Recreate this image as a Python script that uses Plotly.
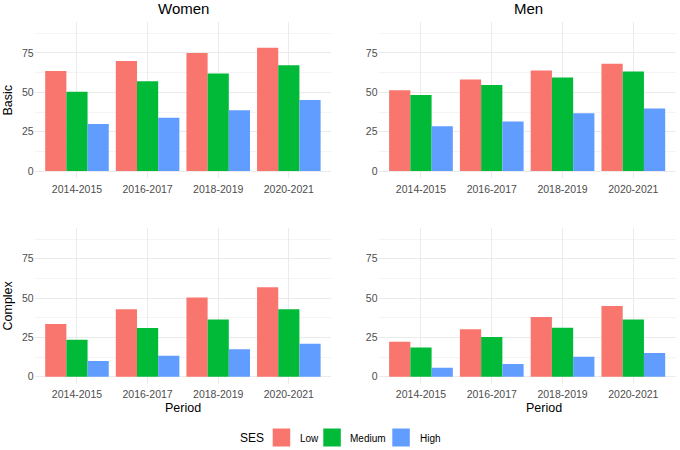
import plotly.graph_objects as go

periods = ["2014-2015", "2016-2017", "2018-2019", "2020-2021"]
ses_levels = ["Low", "Medium", "High"]
colors = ["#F8766D", "#00BA38", "#619CFF"]

women_basic = {"Low": [63.6, 69.9, 75.0, 78.4], "Medium": [50.4, 57.0, 61.9, 67.2], "High": [29.9, 33.9, 38.6, 45.1]}
men_basic = {"Low": [51.3, 58.1, 63.8, 68.2], "Medium": [48.3, 54.7, 59.5, 63.3], "High": [28.4, 31.4, 36.7, 39.8]}
women_complex = {"Low": [33.5, 42.8, 50.4, 56.8], "Medium": [23.5, 30.9, 36.4, 42.8], "High": [10.0, 13.3, 17.4, 21.0]}
men_complex = {"Low": [22.2, 30.1, 37.9, 44.9], "Medium": [18.6, 25.2, 31.1, 36.4], "High": [5.7, 8.1, 12.7, 15.0]}

W, H = 680, 450
FONT = "Liberation Sans, Arial, sans-serif"

panels = [
    (women_basic, "x", "y"),
    (men_basic, "x2", "y2"),
    (women_complex, "x3", "y3"),
    (men_complex, "x4", "y4"),
]

fig = go.Figure()
for data, xa, ya in panels:
    for lvl, col in zip(ses_levels, colors):
        fig.add_trace(go.Bar(x=periods, y=data[lvl], name=lvl, marker=dict(color=col, line=dict(width=0)),
                             xaxis=xa, yaxis=ya, showlegend=False, offsetgroup=lvl))

def px_x(a, b):
    return [a / W, b / W]

def px_y(top, bottom):
    return [1 - bottom / H, 1 - top / H]

left_dom = px_x(34.6, 331.2)
right_dom = px_x(378.5, 675.8)
top_dom = px_y(22.3, 178.1)
bot_dom = px_y(228.0, 383.8)

xcommon = dict(type="category", range=[-0.6, 3.6], showgrid=True, gridcolor="#EBEBEB", gridwidth=1,
               showline=False, zeroline=False, ticks="", ticklabelstandoff=3,
               tickfont=dict(family=FONT, size=10.5, color="#4D4D4D"),
               categoryorder="array", categoryarray=periods, fixedrange=True)
ycommon = dict(range=[-4.5, 94.5], tickvals=[0, 25, 50, 75], showgrid=True, gridcolor="#EBEBEB", gridwidth=1,
               zeroline=False, showline=False, ticks="", tickfont=dict(family=FONT, size=10.5, color="#4D4D4D"),
               minor=dict(tickvals=[12.5, 37.5, 62.5, 87.5], showgrid=True, gridcolor="#F4F4F4", gridwidth=1),
               fixedrange=True)

fig.update_layout(
    width=W, height=H, margin=dict(l=0, r=0, t=0, b=0),
    paper_bgcolor="white", plot_bgcolor="white",
    barmode="group", bargap=0.1, bargroupgap=0,
    showlegend=False,
    font=dict(family=FONT),
    xaxis=dict(domain=left_dom, anchor="y", **xcommon),
    yaxis=dict(domain=top_dom, anchor="x", **ycommon),
    xaxis2=dict(domain=right_dom, anchor="y2", **xcommon),
    yaxis2=dict(domain=top_dom, anchor="x2", **ycommon),
    xaxis3=dict(domain=left_dom, anchor="y3", **xcommon),
    yaxis3=dict(domain=bot_dom, anchor="x3", **ycommon),
    xaxis4=dict(domain=right_dom, anchor="y4", **xcommon),
    yaxis4=dict(domain=bot_dom, anchor="x4", **ycommon),
)

def ann(text, x, y, size, color="black", xanchor="center", angle=0):
    fig.add_annotation(text=text, x=x / W, y=1 - y / H, xref="paper", yref="paper", showarrow=False,
                       xanchor=xanchor, yanchor="middle", textangle=angle,
                       font=dict(family=FONT, size=size, color=color))

ann("Women", 183, 8, 15)
ann("Men", 528, 8, 15)
ann("Basic", 7.5, 100, 12.5, angle=-90)
ann("Complex", 7.5, 306, 12.5, angle=-90)
ann("Period", 183, 408, 12.5)
ann("Period", 544, 408, 12.5)

# legend
ann("SES", 252, 438, 12)
legend_items = [(272.7, 297.7), (323.3, 348.3), (392.3, 418.0)]
for (sx, tx), lvl, col in zip(legend_items, ses_levels, colors):
    fig.add_shape(type="rect", xref="paper", yref="paper", x0=sx / W, x1=(sx + 17.5) / W,
                  y0=1 - 446.5 / H, y1=1 - 428.5 / H, fillcolor=col, line=dict(width=0))
    ann(lvl, tx, 438, 10, color="black", xanchor="left")

fig.write_html("out.html")
